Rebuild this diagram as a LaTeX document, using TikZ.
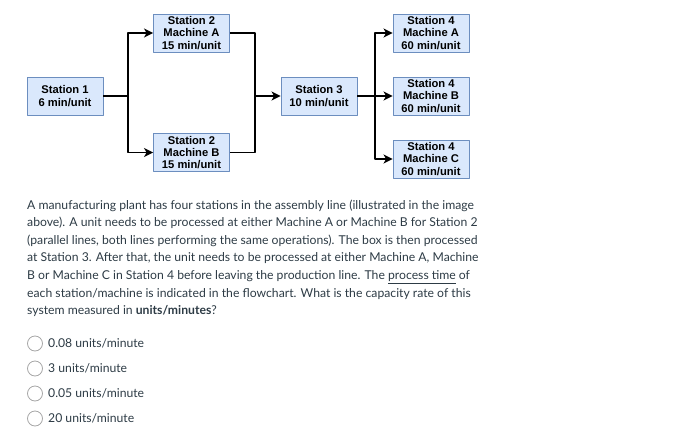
\documentclass[tikz,border=0pt]{standalone}
\usepackage{fontspec}
\setmainfont{Lato}
\newfontfamily\boxfont{Liberation Sans}
\usepackage{tikz}
\usetikzlibrary{arrows.meta,positioning}

\begin{document}
\begin{tikzpicture}[x=1pt,y=-1pt,line join=round]
\definecolor{boxfill}{HTML}{DAE8FC}\definecolor{boxline}{HTML}{6C8EBF}
\definecolor{inkc}{HTML}{2D3B45}
\tikzset{
  stationbox/.style={draw=boxline,fill=boxfill,line width=0.9pt,minimum width=76pt,
    minimum height=38pt,inner sep=0pt,align=center,
    font=\boxfont\bfseries\fontsize{11.2}{12.4}\selectfont},
  wire/.style={line width=1.9pt,-{Stealth[length=9pt,width=9pt,inset=2.5pt]}},
  plainwire/.style={line width=1.9pt},
  para/.style={anchor=base west,inner sep=0pt,text=inkc,font=\fontsize{12.2}{14}\selectfont},
  radio/.style={circle,draw=black!35,line width=0.8pt,minimum size=15pt,inner sep=0pt}
}
\useasboundingbox (0,0) rectangle (700,441);
% flowchart: station 1 -> (2A | 2B) -> station 3 -> (4A | 4B | 4C)
\node[stationbox] (s1)  at (65,96)    {Station 1\\6 min/unit};
\node[stationbox] (s2a) at (191.5,33) {Station 2\\Machine A\\15 min/unit};
\node[stationbox] (s2b) at (191.5,152.5) {Station 2\\Machine B\\15 min/unit};
\node[stationbox] (s3)  at (319,96)   {Station 3\\10 min/unit};
\node[stationbox] (s4a) at (431,33)   {Station 4\\Machine A\\60 min/unit};
\node[stationbox] (s4b) at (431,96)   {Station 4\\Machine B\\60 min/unit};
\node[stationbox] (s4c) at (431,159)  {Station 4\\Machine C\\60 min/unit};
\coordinate (split1) at (128,96);
\coordinate (merge)  at (255,96);
\coordinate (split2) at (375,96);
\draw[plainwire] (s1) -- (split1);
\draw[wire] (split1) |- (s2a);
\draw[wire] (split1) |- (s2b);
\draw[plainwire] (s2a) -| (merge);
\draw[plainwire] (s2b) -| (merge);
\draw[wire] (merge) -- (s3);
\draw[plainwire] (s3) -- (split2);
\draw[wire] (split2) |- (s4a);
\draw[wire] (split2) -- (s4b);
\draw[wire] (split2) |- (s4c);
% question text, one node per printed line
\foreach \t [count=\i from 0] in {
  {A manufacturing plant has four stations in the assembly line (illustrated in the image},
  {above). A unit needs to be processed at either Machine A or Machine B for Station 2},
  {(parallel lines, both lines performing the same operations). The box is then processed},
  {at Station 3. After that, the unit needs to be processed at either Machine A, Machine},
  {B or Machine C in Station 4 before leaving the production line. The \underline{process time} of},
  {each station/machine is indicated in the flowchart. What is the capacity rate of this},
  {system measured in \textbf{units/minutes}?}}{
  \node[para] (line\i) at (27,209+17.6*\i) {\t};}
% answer choices
\foreach \t [count=\i from 0] in {{0.08 units/minute},{3 units/minute},{0.05 units/minute},{20 units/minute}}{
  \node[radio] (radio\i) at (35,343.5+25*\i) {};
  \node[para,anchor=west] (choice\i) at (48,343.5+25*\i) {\t};}
\end{tikzpicture}
\end{document}
